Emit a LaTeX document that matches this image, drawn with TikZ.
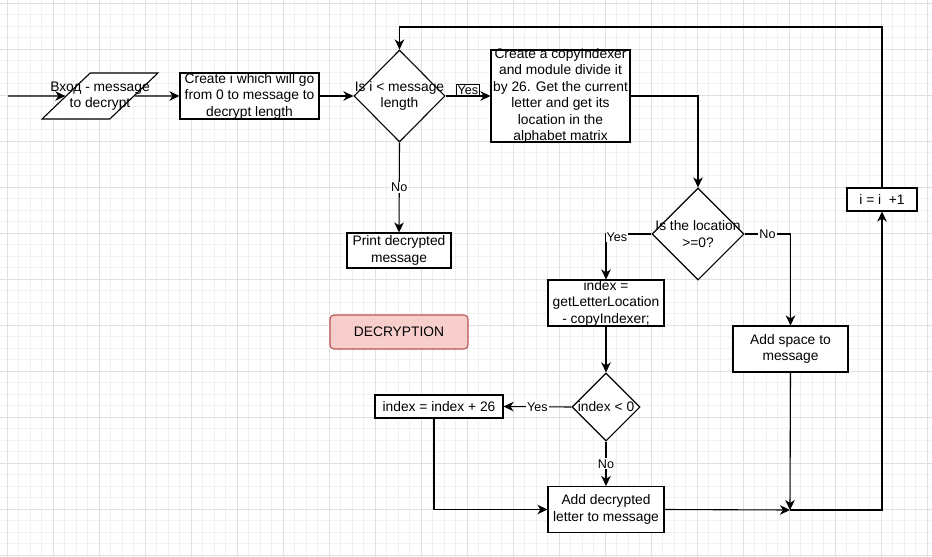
\documentclass[tikz,border=0pt]{standalone}
\usepackage{fontspec}
\setmainfont{Liberation Sans}
\usetikzlibrary{arrows.meta,positioning,shapes.geometric,calc}
\definecolor{ink}{HTML}{000000}
\definecolor{gridmaj}{HTML}{E0E0E0}
\definecolor{gridmin}{HTML}{F1F1F1}
\definecolor{redfill}{HTML}{F8CECC}
\definecolor{redline}{HTML}{B85450}
\tikzset{
  plain/.style={align=center,font=\fontsize{13.8}{16.5}\selectfont,text=ink,inner sep=0pt},
  txt/.style={label={[plain]center:#1}},
  box/.style={draw=ink,line width=1.1pt,fill=white,inner sep=0pt,align=center,font=\fontsize{13.8}{16.5}\selectfont,text=ink},
  boxr/.style={box,draw=redline,fill=redfill,rounded corners=4pt},
  dec/.style={box,diamond,minimum width=92,minimum height=92},
  io/.style={box,trapezium,inner sep=2pt,trapezium left angle=64.5,trapezium right angle=115.5,trapezium stretches=true,minimum width=116,minimum height=46},
  lbl/.style={font=\fontsize{12.6}{14}\selectfont,text=ink,fill=white,inner sep=1pt},
  lblb/.style={lbl,draw=ink,line width=.8pt},
  ar/.style={-{Stealth[length=10pt,width=9.5pt,inset=3pt]},draw=ink,line width=1.1pt},
}
\begin{document}
\begin{tikzpicture}[x=1pt,y=-1pt]
  \useasboundingbox (0,0) rectangle (932,557);
  % grid
  \begin{scope}
    \clip (0,0) rectangle (932,557);
    \foreach \i in {0,...,82} \draw[gridmin,line width=1pt] (-4.2+11.5*\i,0) -- ++(0,557);
    \foreach \i in {0,...,49} \draw[gridmin,line width=1pt] (0,-8.2+11.5*\i) -- ++(932,0);
    \foreach \i in {0,...,20} \draw[gridmaj,line width=1pt] (7.3+46*\i,0) -- ++(0,557);
    \foreach \i in {0,...,12} \draw[gridmaj,line width=1pt] (0,3.3+46*\i) -- ++(932,0);
  \end{scope}

  \coordinate (start) at (8,96);
  \node[io,txt={Вход - message\\to decrypt}] (input) at (100,96) {\strut};
  \node[box,minimum width=139,minimum height=46,txt={Create i which will go\\from 0 to message to\\decrypt length}] (init) at (249.5,96) {};
  \node[dec,minimum width=91,txt={Is i < message\\length}] (loop) at (399.5,96) {};
  \node[box,minimum width=139,minimum height=92,txt={Create a copyIndexer\\and module divide it\\by 26. Get the current\\letter and get its\\location in the\\alphabet matrix}] (copy) at (560.5,96) {};
  \node[box,minimum width=104,minimum height=35] (print) at (399,250.5) {Print decrypted\\message};
  \node[boxr,minimum width=138,minimum height=34] (title) at (399,332) {DECRYPTION};
  \node[dec,txt={Is the location\\>=0?}] (locq) at (698,234) {};
  \node[box,minimum width=116,minimum height=46,txt={index =\\getLetterLocation\\- copyIndexer;}] (getidx) at (606,303) {};
  \node[box,minimum width=115,minimum height=46] (space) at (790.5,349) {Add space to\\message};
  \node[box,minimum width=70,minimum height=23] (incr) at (882,199.5) {i = i~~+1};
  \node[dec,minimum width=68,minimum height=68,txt={index < 0}] (negq) at (606,407) {};
  \node[box,minimum width=128,minimum height=23] (add26) at (439,406.5) {index = index + 26};
  \node[box,minimum width=116,minimum height=46] (addletter) at (606,509.5) {Add decrypted\\letter to message};
  \coordinate (merge) at (790,510);
  \coordinate (ceil) at (640,27);

  \draw[ar] (start) -- (input.west);
  \draw[ar] (input.east) -- (init.west);
  \draw[ar] (init.east) -- (loop.west);
  \draw[ar] (loop.east) -- node[lblb,above=0pt]{Yes} (copy.west);
  \draw[ar] (loop.south) -- node[lbl]{No} (print.north);
  \draw[ar] (copy.east) -| (locq.north);
  \draw[ar] (locq.west) -| node[lbl,pos=.38,yshift=-3]{Yes} (getidx.north);
  \draw[ar] (locq.east) -| node[lbl,pos=.25]{No} (space.north);
  \draw[ar] (getidx.south) -- (negq.north);
  \draw[ar] (negq.west) -- node[lbl]{Yes} (add26.east);
  \draw[ar] (negq.south) -- node[lbl]{No} (addletter.north);
  \draw[ar] ([xshift=-5]add26.south) |- (addletter.west);
  \draw[ar] (addletter.east) -- (merge);
  \draw[ar] (space.south) -- (merge);
  \draw[ar] (merge) -| (incr.south);
  \draw[ar] (incr.north) |- (ceil) -| (loop.north);
\end{tikzpicture}
\end{document}
